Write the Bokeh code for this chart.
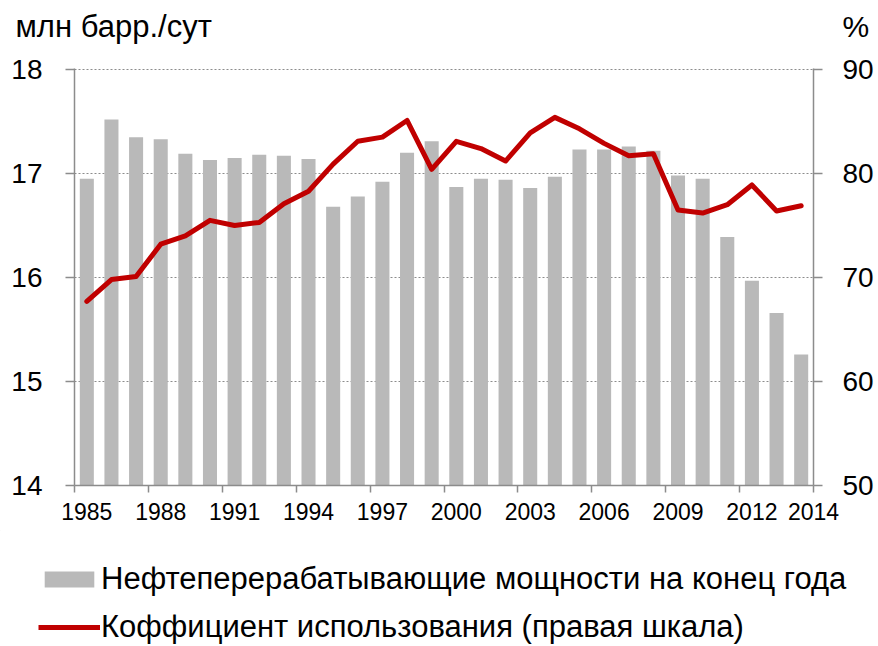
from bokeh.plotting import figure
from bokeh.models import (Range1d, LinearAxis, FixedTicker, Label, Legend, LegendItem,
                          ColumnDataSource, Grid)
from bokeh.layouts import column
from bokeh.embed import file_html
from bokeh.resources import INLINE

years = list(range(1985, 2015))
capacity = [16.95, 17.52, 17.35, 17.33, 17.19, 17.13, 17.15, 17.18, 17.17, 17.14,
            16.68, 16.78, 16.92, 17.20, 17.31, 16.87, 16.95, 16.94, 16.86, 16.97,
            17.23, 17.23, 17.26, 17.22, 16.98, 16.95, 16.39, 15.97, 15.66, 15.26]
utilization = [67.7, 69.8, 70.1, 73.2, 74.0, 75.5, 75.0, 75.3, 77.1, 78.3,
               80.9, 83.1, 83.5, 85.1, 80.4, 83.1, 82.4, 81.2, 83.9, 85.4,
               84.3, 82.9, 81.7, 81.9, 76.5, 76.2, 77.0, 78.9, 76.4, 76.9]
year_ticks = [1985, 1988, 1991, 1994, 1997, 2000, 2003, 2006, 2009, 2012]
left_ticks = [14, 15, 16, 17, 18]
right_ticks = [50, 60, 70, 80, 90]
left_title = "млн барр./сут"
right_title = "%"
last_year_label = "2014"
bar_name = "Нефтеперерабатывающие мощности на конец года"
line_name = "Коффициент использования (правая шкала)"

FONT = "Liberation Sans"
AXIS_COLOR = "#8c8c8c"
BAR_COLOR = "#b9b9b9"
LINE_COLOR = "#c00000"
W = 878
HEAD_H = 46
FOOT_H = 116
MAIN_H = 646 - HEAD_H - FOOT_H


def blank(height):
    f = figure(width=W, height=height, output_backend="svg", toolbar_location=None,
               x_range=Range1d(0, W), y_range=Range1d(height, 0),
               min_border=0, min_border_left=0, min_border_right=0,
               min_border_top=0, min_border_bottom=0, frame_align=False,
               outline_line_color=None, x_axis_type=None, y_axis_type=None)
    f.xgrid.visible = False
    f.ygrid.visible = False
    return f


# ---- header with the two axis titles ----
head = blank(HEAD_H)
head.add_layout(Label(x=15, y=26, text=left_title, text_font=FONT, text_font_size="31px",
                      text_align="left", text_baseline="alphabetic", text_color="#000000"))
head.add_layout(Label(x=842, y=26, text=right_title, text_font=FONT, text_font_size="30px",
                      text_align="left", text_baseline="alphabetic", text_color="#000000"))

# ---- main chart ----
src = ColumnDataSource(dict(year=years, cap=capacity, util=utilization))

p = figure(width=W, height=MAIN_H, output_backend="svg", toolbar_location=None,
           x_range=Range1d(years[0] - 0.5, years[-1] + 0.5),
           y_range=Range1d(left_ticks[0], left_ticks[-1] + 0.01),
           min_border_left=74, min_border_right=65, min_border_top=68 - HEAD_H,
           min_border_bottom=45, frame_align=False,
           outline_line_color=None, x_axis_type=None, y_axis_type=None)
p.extra_y_ranges = {"pct": Range1d(right_ticks[0], right_ticks[-1] + 0.1)}

bars = p.vbar(x="year", top="cap", bottom=left_ticks[0], width=0.57, source=src,
              fill_color=BAR_COLOR, line_color=None)
line = p.line(x="year", y="util", source=src, y_range_name="pct",
              line_color=LINE_COLOR, line_width=5, line_join="round", line_cap="round")

last_tick = years[-1] + 0.5
xaxis = LinearAxis(ticker=FixedTicker(ticks=year_ticks + [last_tick],
                                      minor_ticks=[y - 0.5 for y in years[::3]] + [last_tick]))
xaxis.major_label_overrides = {last_tick: last_year_label}
xaxis.axis_line_color = AXIS_COLOR
xaxis.axis_line_width = 1.5
xaxis.major_tick_line_color = None
xaxis.major_tick_out = 7
xaxis.major_tick_in = 0
xaxis.minor_tick_line_color = AXIS_COLOR
xaxis.minor_tick_line_width = 1.5
xaxis.minor_tick_out = 7
xaxis.minor_tick_in = 0
xaxis.major_label_standoff = 10
xaxis.major_label_text_font = FONT
xaxis.major_label_text_font_size = "23px"
xaxis.major_label_text_color = "#000000"
p.add_layout(xaxis, "below")

yaxis = LinearAxis(ticker=FixedTicker(ticks=left_ticks))
yaxis.axis_line_color = AXIS_COLOR
yaxis.axis_line_width = 1.5
yaxis.major_tick_line_color = AXIS_COLOR
yaxis.major_tick_line_width = 1.5
yaxis.major_tick_out = 9
yaxis.major_tick_in = 0
yaxis.minor_tick_line_color = None
yaxis.major_label_standoff = 23
yaxis.major_label_text_font = FONT
yaxis.major_label_text_font_size = "28px"
yaxis.major_label_text_color = "#000000"
p.add_layout(yaxis, "left")

raxis = LinearAxis(y_range_name="pct", ticker=FixedTicker(ticks=right_ticks))
raxis.axis_line_color = AXIS_COLOR
raxis.axis_line_width = 1.5
raxis.major_tick_line_color = AXIS_COLOR
raxis.major_tick_line_width = 1.5
raxis.major_tick_out = 9
raxis.major_tick_in = 0
raxis.minor_tick_line_color = None
raxis.major_label_standoff = 20
raxis.major_label_text_font = FONT
raxis.major_label_text_font_size = "28px"
raxis.major_label_text_color = "#000000"
p.add_layout(raxis, "right")

grid = Grid(dimension=1, ticker=yaxis.ticker)
grid.grid_line_color = "#8c8c8c"
grid.grid_line_dash = "2 2"
grid.grid_line_width = 1
p.add_layout(grid)

# ---- footer with the legend (swatches use the same styles as the chart marks) ----
foot = blank(FOOT_H)
leg_bar = foot.vbar(x=[-50], top=[-50], bottom=[-60], width=1,
                    fill_color=BAR_COLOR, line_color=None)
leg_line = foot.line(x=[-60, -50], y=[-50, -50], line_color=LINE_COLOR, line_width=5)
legend = Legend(items=[LegendItem(label=bar_name, renderers=[leg_bar]),
                       LegendItem(label=line_name, renderers=[leg_line])],
                location=(38, 1), orientation="vertical",
                glyph_width=62, glyph_height=20, label_standoff=1, spacing=12,
                padding=0, margin=0, border_line_color=None, background_fill_alpha=0,
                label_text_font=FONT, label_text_font_size="31px", label_text_color="#000000")
foot.add_layout(legend, "center")

open("out.html", "w").write(file_html(column(head, p, foot, spacing=0), INLINE))
